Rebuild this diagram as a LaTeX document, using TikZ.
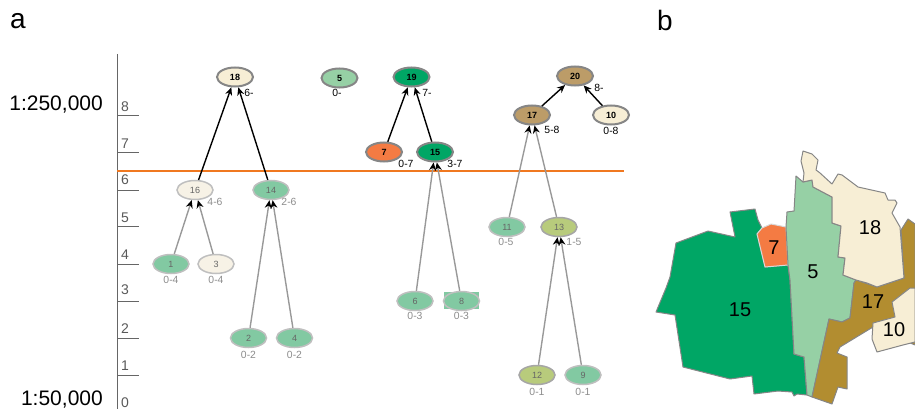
\documentclass[tikz,border=0pt]{standalone}
\usepackage{fontspec}
\setmainfont{Liberation Sans}
\usetikzlibrary{arrows.meta,shapes.geometric}
\definecolor{deepgreen}{HTML}{00A665}
\definecolor{midgreen}{HTML}{96D0A5}
\definecolor{fadegreen}{HTML}{82C9A2}
\definecolor{cream}{HTML}{F7EED5}
\definecolor{fadecream}{HTML}{F7F2E6}
\definecolor{coral}{HTML}{F47B43}
\definecolor{tan}{HTML}{BC9C68}
\definecolor{olive}{HTML}{B8CB7C}
\definecolor{ochre}{HTML}{B28D30}
\definecolor{cutline}{HTML}{F07820}
\tikzset{
  unit/.style={ellipse,draw=gray!95,line width=2pt,minimum width=36pt,minimum height=19pt,inner sep=0pt,font=\fontsize{9}{9}\selectfont\bfseries},
  fadeunit/.style={unit,draw=gray!50,text=black!60,line width=1.5pt,font=\fontsize{9}{9}\selectfont},
  agerange/.style={inner sep=0pt,font=\fontsize{10.4}{10.4}\selectfont},
  fadeage/.style={agerange,text=black!45},
  upedge/.style={draw=black,line width=1.4pt,-{Stealth[black,length=8pt,width=7pt]}},
  downedge/.style={draw=black!40,line width=1.4pt,-{Stealth[black,length=8pt,width=7pt]}},
  region/.style={draw=gray!95,line width=1pt,line join=round},
  maplabel/.style={inner sep=0pt,font=\fontsize{20}{20}\selectfont},
  scalelabel/.style={inner sep=0pt,anchor=base east,font=\fontsize{21}{21}\selectfont},
  panel/.style={inner sep=0pt,font=\fontsize{28}{28}\selectfont},
  ticklabel/.style={inner sep=0pt,text=black!65,font=\fontsize{14}{14}\selectfont}
}
\begin{document}
\begin{tikzpicture}[x=1pt,y=-1pt]
      \useasboundingbox (0,0) rectangle (915,409);
      \clip (0,0) rectangle (915,409);
      % scale
      \draw[black!60,line width=1pt] (117,54) -- (117,409);
      \foreach \n/\y/\ly in {8/115/107, 7/152.5/144, 6/190/180, 5/226.7/218, 4/264/254.5, 3/301/290, 2/338/328.5, 1/375.7/366}
      {
      \draw[black!60,line width=0.8pt] (117,\y) -- (139,\y);
      \node[ticklabel] (tick\n) at (125,\ly) {\n};
      }
      \node[ticklabel] (tick0) at (125,402.5) {0};
      \node[scalelabel] (top) at (103,111) {1:250,000};
      \node[scalelabel] (bottom) at (103,405) {1:50,000};
      \node[panel] (pa) at (18,21) {a};
      \node[panel] (pb) at (665,20) {b};
      \draw[cutline,line width=1.5pt] (117,171) -- (624,171);

      % units above the line
      \node[unit,fill=cream] (n18) at (235,77) {18};
      \node[unit,fill=midgreen] (n5) at (339.5,78) {5};
      \node[unit,fill=deepgreen] (n19) at (411.5,77) {19};
      \node[unit,fill=coral] (n7) at (384,152) {7};
      \node[unit,fill=deepgreen] (n15) at (435,152) {15};
      \node[unit,fill=tan] (n20) at (575,76) {20};
      \node[unit,fill=tan] (n17) at (532,115) {17};
      \node[unit,fill=cream] (n10) at (611,115) {10};

      % units below the line
      \fill[fadegreen] (444,292) rectangle (479,309);
      \node[fadeunit,fill=fadecream] (n16) at (195,190) {16};
      \node[fadeunit,fill=fadegreen] (n14) at (271,190) {14};
      \node[fadeunit,fill=fadegreen] (n1) at (171,264) {1};
      \node[fadeunit,fill=fadecream] (n3) at (216,264) {3};
      \node[fadeunit,fill=fadegreen] (n2) at (248.5,338) {2};
      \node[fadeunit,fill=fadegreen] (n4) at (294.5,338) {4};
      \node[fadeunit,fill=fadegreen] (n6) at (415,301) {6};
      \node[fadeunit,fill=fadegreen] (n8) at (461.5,301) {8};
      \node[fadeunit,fill=fadegreen] (n11) at (507,227) {11};
      \node[fadeunit,fill=olive,draw=gray!70] (n13) at (559,227) {13};
      \node[fadeunit,fill=olive,draw=gray!70] (n12) at (537,375) {12};
      \node[fadeunit,fill=fadegreen] (n9) at (583,375) {9};

      % ranges
      \node[agerange] (r18) at (249,93) {6-};
      \node[agerange] (r5) at (337,93) {0-};
      \node[agerange] (r19) at (427,93) {7-};
      \node[agerange] (r7) at (406,164) {0-7};
      \node[agerange] (r15) at (455,164) {3-7};
      \node[agerange] (r20) at (599,88) {8-};
      \node[agerange] (r17) at (552,130) {5-8};
      \node[agerange] (r10) at (611,131) {0-8};
      \node[fadeage] (r16) at (215,202) {4-6};
      \node[fadeage] (r14) at (289,202) {2-6};
      \node[fadeage] (r1) at (171,280) {0-4};
      \node[fadeage] (r3) at (216,280) {0-4};
      \node[fadeage] (r2) at (248.5,355) {0-2};
      \node[fadeage] (r4) at (294.5,355) {0-2};
      \node[fadeage] (r6) at (415,316) {0-3};
      \node[fadeage] (r8) at (461.5,316) {0-3};
      \node[fadeage] (r11) at (506,242) {0-5};
      \node[fadeage] (r13) at (574,242) {1-5};
      \node[fadeage] (r12) at (537,392) {0-1};
      \node[fadeage] (r9) at (583,392) {0-1};

      % merges
      \foreach \a/\b in {n16/n18, n14/n18, n7/n19, n15/n19, n17/n20, n10/n20}
      \draw[upedge] (\a) -- (\b);
      \foreach \a/\b in {n1/n16, n3/n16, n2/n14, n4/n14, n6/n15, n8/n15, n11/n17, n13/n17, n12/n13, n9/n13}
      \draw[downedge] (\a) -- (\b);

      % map
      \draw[region,fill=deepgreen] (730,212) -- (755,209) -- (758,220) -- (762,228) -- (757,234) -- (765,267) -- (788,265) -- (790,280) -- (794,354) -- (804,357) -- (807,395) -- (797,394) -- (794,396) -- (792,392) -- (778,391) -- (754,394) -- (752,376) -- (730,379) -- (683,367) -- (675,315) -- (656,312) -- (666,288) -- (670,277) -- (676,243) -- (708,231) -- (735,237) -- cycle;
      \draw[region,fill=coral,draw=black!15] (757,234) -- (762,228) -- (771,224) -- (786,227) -- (788,265) -- (765,267) -- cycle;
      \draw[region,fill=midgreen] (796,176) -- (803,182) -- (812,180) -- (813,187) -- (832,197) -- (832,223) -- (841,226) -- (838,257) -- (845,258) -- (843,275) -- (856,280) -- (854,283) -- (850,318) -- (842,322) -- (829,319) -- (812,397) -- (807,395) -- (804,357) -- (794,354) -- (790,280) -- (788,265) -- (786,227) -- (787,212) -- (794,211) -- cycle;
      \draw[region,fill=ochre] (908,219) -- (915,224) -- (915,345) -- (873,327) -- (840,347) -- (837,353) -- (847,357) -- (847,389) -- (838,387) -- (832,404) -- (812,397) -- (829,319) -- (842,322) -- (850,318) -- (854,283) -- (856,280) -- (877,287) -- (904,278) -- (901,230) -- cycle;
      \draw[region,fill=cream] (803,151) -- (812,154) -- (818,160) -- (816,170) -- (820,173) -- (832,184) -- (838,174) -- (842,175) -- (858,187) -- (885,193) -- (888,200) -- (895,200) -- (897,203) -- (892,213) -- (900,227) -- (904,278) -- (877,287) -- (867,283) -- (856,280) -- (843,275) -- (845,258) -- (838,257) -- (841,226) -- (832,223) -- (832,197) -- (813,187) -- (812,180) -- (803,182) -- (804,173) -- (801,161) -- cycle;
      \draw[region,fill=cream] (915,288) -- (910,288) -- (892,302) -- (895,317) -- (873,323) -- (872,339) -- (877,352) -- (903,345) -- (915,342) -- cycle;
      \node[maplabel] (m15) at (740,310) {15};
      \node[maplabel] (m7) at (774,248) {7};
      \node[maplabel] (m5) at (813,272) {5};
      \node[maplabel] (m18) at (870,228) {18};
      \node[maplabel] (m17) at (873,302) {17};
      \node[maplabel] (m10) at (894,330) {10};
     \end{tikzpicture}
\end{document}
